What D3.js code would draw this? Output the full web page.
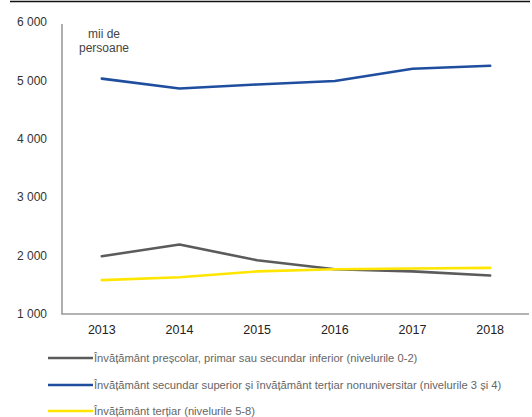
<!DOCTYPE html>
<html>
<head>
<meta charset="utf-8">
<script src="https://cdn.jsdelivr.net/npm/d3@7"></script>
<style>
  html, body { margin: 0; padding: 0; background: #fff; }
  svg { display: block; font-family: "Liberation Sans", Arial, sans-serif; }
</style>
</head>
<body>
<svg id="chart" width="532" height="417"></svg>
<script>
// Population by education level, thousands of persons
const years = ["2013", "2014", "2015", "2016", "2017", "2018"];
const lowEdu = [1990, 2190, 1920, 1765, 1730, 1660];
const midEdu = [5030, 4860, 4930, 4990, 5200, 5250];
const highEdu = [1580, 1630, 1730, 1765, 1780, 1790];
const yTicks = [1000, 2000, 3000, 4000, 5000, 6000];
const seriesNames = [
  "Învățământ preșcolar, primar sau secundar inferior (nivelurile 0-2)",
  "Învățământ secundar superior și învățământ terțiar nonuniversitar (nivelurile 3 și 4)",
  "Învățământ terțiar (nivelurile 5-8)"
];
const seriesColors = ["#5b5b5b", "#1f4e9e", "#ffe600"];

const series = [lowEdu, midEdu, highEdu].map((vals, i) => ({
  name: seriesNames[i],
  color: seriesColors[i],
  values: vals.map((v, j) => ({ year: years[j], value: v }))
}));

const svg = d3.select("#chart");

// top rule
svg.append("line")
  .attr("x1", 10).attr("x2", 530).attr("y1", 1.5).attr("y2", 1.5)
  .attr("stroke", "#111").attr("stroke-width", 1.6);

const x = d3.scalePoint().domain(years).range([63, 529]).padding(0.5);
const y = d3.scaleLinear().domain([1000, 6000]).range([314, 22]);

const fmt = v => d3.format(",")(v).replace(/,/g, " ");

// y tick labels
svg.append("g").selectAll("text")
  .data(yTicks).join("text")
  .attr("x", 47).attr("y", d => y(d)).attr("dy", "0.35em")
  .attr("text-anchor", "end")
  .attr("font-size", 12).attr("fill", "#333")
  .text(fmt);

// axes lines
svg.append("line")
  .attr("x1", 62).attr("x2", 62).attr("y1", y(6000) + 2).attr("y2", y(1000))
  .attr("stroke", "#9a9a9a").attr("stroke-width", 1.6);
svg.append("line")
  .attr("x1", 61.2).attr("x2", 529).attr("y1", y(1000)).attr("y2", y(1000))
  .attr("stroke", "#9a9a9a").attr("stroke-width", 1.6);

// year labels
svg.append("g").selectAll("text")
  .data(years).join("text")
  .attr("x", d => x(d)).attr("y", 334)
  .attr("text-anchor", "middle")
  .attr("font-size", 12.5).attr("fill", "#222")
  .text(d => d);

// unit label
const unit = svg.append("text")
  .attr("text-anchor", "middle").attr("font-size", 12).attr("fill", "#444");
unit.append("tspan").attr("x", 104).attr("y", 38).text("mii de");
unit.append("tspan").attr("x", 104).attr("y", 52).text("persoane");

// series lines
const line = d3.line()
  .x(d => x(d.year))
  .y(d => y(d.value));

svg.append("g").selectAll("path")
  .data(series).join("path")
  .attr("d", d => line(d.values))
  .attr("fill", "none")
  .attr("stroke", d => d.color)
  .attr("stroke-width", 2.6)
  .attr("stroke-linejoin", "round")
  .attr("stroke-linecap", "round");

// legend
const legendY = [358, 385, 411];
const lg = svg.append("g").selectAll("g")
  .data(series).join("g")
  .attr("transform", (d, i) => `translate(0,${legendY[i]})`);
lg.append("line")
  .attr("x1", 48).attr("x2", 93)
  .attr("stroke", d => d.color).attr("stroke-width", 2.6);
lg.append("text")
  .attr("x", 94).attr("dy", "0.35em")
  .attr("font-size", 11.2).attr("fill", "#666")
  .text(d => d.name);
</script>
</body>
</html>
